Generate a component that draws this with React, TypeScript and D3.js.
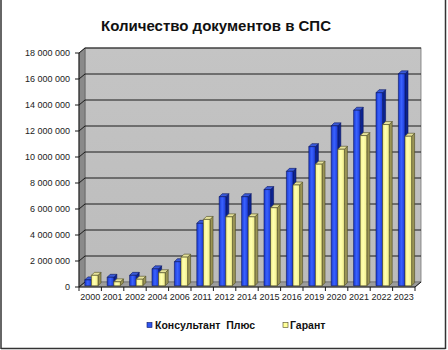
import React from "react";
import * as d3 from "d3";

const categories = ["2000","2001","2002","2004","2006","2011","2012","2014","2015","2016","2019","2020","2021","2022","2023"];
const consultant = [450000, 650000, 800000, 1300000, 1850000, 4800000, 6850000, 6850000, 7400000, 8800000, 10700000, 12300000, 13500000, 14850000, 16300000];
const garant = [800000, 300000, 500000, 1000000, 2200000, 5100000, 5300000, 5300000, 6000000, 7750000, 9350000, 10500000, 11550000, 12400000, 11500000];
const yTicks = [0, 2000000, 4000000, 6000000, 8000000, 10000000, 12000000, 14000000, 16000000, 18000000];
const seriesNames = ["Консультант  Плюс", "Гарант"];

const W = 448, H = 350;
const X0 = 79, X1 = 415, Y0 = 287, Y1 = 53;
const DX = 6, DY = 5;

const fmt = (v: number) => d3.format(",")(v).replace(/,/g, " ");

export default function App() {
  const x = d3.scaleBand<string>().domain(categories).range([X0, X1]);
  const y = d3.scaleLinear().domain([0, 18000000]).range([Y0, Y1]);
  const bw = x.bandwidth();
  const font = "'Liberation Sans', Arial, sans-serif";

  const series = [
    { vals: consultant, off: 5.8, front: "url(#gBlue)", side: "#0c2390", top: "#3a5ad8", stroke: "#0a1660" },
    { vals: garant, off: 12.4, front: "url(#gYel)", side: "#9a9455", top: "#e6e29a", stroke: "#4a4822" },
  ];
  const barW = 6.6, bdx = 3, bdy = 3;

  const bars: React.ReactNode[] = [];
  categories.forEach((c, i) => {
    series.forEach((s, si) => {
      const v = s.vals[i];
      const xl = (x(c) as number) + s.off;
      const yb = Y0 - 1.25;
      const yt = y(v) - 1.25;
      const xr = xl + barW;
      bars.push(
        <g key={c + si} stroke={s.stroke} strokeWidth={0.6} strokeLinejoin="round">
          <polygon points={`${xr},${yb} ${xr + bdx},${yb - bdy} ${xr + bdx},${yt - bdy} ${xr},${yt}`} fill={s.side} />
          <polygon points={`${xl},${yt} ${xl + bdx},${yt - bdy} ${xr + bdx},${yt - bdy} ${xr},${yt}`} fill={s.top} />
          <rect x={xl} y={yt} width={barW} height={yb - yt} fill={s.front} />
        </g>
      );
    });
  });

  return (
    <svg width={W} height={H} style={{ position: "absolute", left: 0, top: 0, background: "#fff" }} fontFamily={font}>
      <defs>
        <linearGradient id="gBlue" x1="0" x2="1" y1="0" y2="0">
          <stop offset="0" stopColor="#1a3ad0" />
          <stop offset="0.45" stopColor="#3a62ff" />
          <stop offset="1" stopColor="#1a3ad8" />
        </linearGradient>
        <linearGradient id="gYel" x1="0" x2="1" y1="0" y2="0">
          <stop offset="0" stopColor="#f4f08a" />
          <stop offset="0.45" stopColor="#ffffb0" />
          <stop offset="1" stopColor="#f0ec88" />
        </linearGradient>
        <linearGradient id="gWall" x1="0" x2="0" y1="0" y2="1">
          <stop offset="0" stopColor="#c4c4c4" />
          <stop offset="1" stopColor="#bcbcbc" />
        </linearGradient>
      </defs>
      <text x={216} y={31} textAnchor="middle" fontSize={15} fontWeight="bold" fill="#111">Количество документов в СПС</text>

      {/* walls */}
      <rect x={X0 + DX} y={Y1 - DY} width={X1 - X0} height={Y0 - Y1} fill="url(#gWall)" stroke="#777" strokeWidth={0.8} />
      <polygon points={`${X0},${Y0} ${X0 + DX},${Y0 - DY} ${X1 + DX},${Y0 - DY} ${X1},${Y0}`} fill="#9c9c9c" stroke="#666" strokeWidth={0.6} />
      <polygon points={`${X0},${Y1} ${X0 + DX},${Y1 - DY} ${X0 + DX},${Y0 - DY} ${X0},${Y0}`} fill="#8a8a8a" stroke="#555" strokeWidth={0.6} />

      {/* gridlines */}
      {yTicks.map((t) => (
        <g key={t}>
          {t > 0 && <line x1={X0 + DX} x2={X1 + DX} y1={y(t) - DY} y2={y(t) - DY} stroke="#1a1a1a" strokeWidth={1} />}
          <line x1={X0} x2={X0 + DX} y1={y(t)} y2={y(t) - DY} stroke="#1a1a1a" strokeWidth={1} />
          <line x1={X0 - 4} x2={X0} y1={y(t)} y2={y(t)} stroke="#1a1a1a" strokeWidth={1} />
          <text x={70} y={y(t) + 3.2} textAnchor="end" fontSize={9} fill="#222">{fmt(t)}</text>
        </g>
      ))}

      {bars}

      {/* axes */}
      <line x1={X0} x2={X0} y1={Y1} y2={Y0} stroke="#1a1a1a" strokeWidth={1} />
      <line x1={X0} x2={X1} y1={Y0} y2={Y0} stroke="#1a1a1a" strokeWidth={1} />
      <line x1={X1} x2={X1 + DX} y1={Y0} y2={Y0 - DY} stroke="#1a1a1a" strokeWidth={1} />
      {categories.map((c) => (
        <line key={"t" + c} x1={(x(c) as number) + bw} x2={(x(c) as number) + bw} y1={Y0} y2={Y0 + 4} stroke="#1a1a1a" strokeWidth={1} />
      ))}
      <line x1={X0} x2={X0} y1={Y0} y2={Y0 + 4} stroke="#1a1a1a" strokeWidth={1} />
      {categories.map((c) => (
        <text key={"l" + c} x={(x(c) as number) + bw / 2} y={300} textAnchor="middle" fontSize={9} fill="#222">{c}</text>
      ))}

      {/* legend */}
      <rect x={147} y={322.5} width={5} height={5} fill="#2f55f0" stroke="#0a1660" strokeWidth={0.6} />
      <text x={155} y={328.5} fontSize={10.5} fontWeight="bold" fill="#111" style={{ whiteSpace: "pre" }}>{seriesNames[0]}</text>
      <rect x={283} y={322.5} width={5} height={5} fill="#ffff99" stroke="#4a4822" strokeWidth={0.6} />
      <text x={290} y={328.5} fontSize={10.5} fontWeight="bold" fill="#111">{seriesNames[1]}</text>

      {/* border */}
      <line x1={1} x2={1} y1={0} y2={349} stroke="#333" strokeWidth={1.5} />
      <line x1={445.5} x2={445.5} y1={0} y2={349} stroke="#333" strokeWidth={1.5} />
      <line x1={1} x2={445.5} y1={348.5} y2={348.5} stroke="#333" strokeWidth={1.5} />
    </svg>
  );
}
